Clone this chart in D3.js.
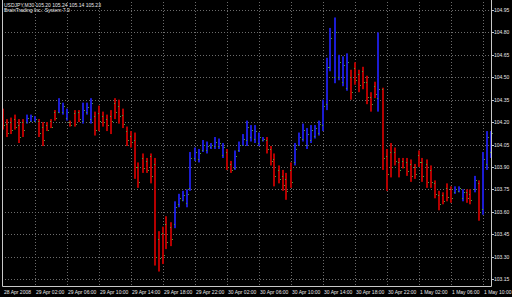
<!DOCTYPE html>
<html>
<head>
<meta charset="utf-8">
<script src="https://cdn.jsdelivr.net/npm/d3@7"></script>
<style>
  html, body { margin: 0; padding: 0; background: #000; }
  svg { display: block; }
  text { font-family: "Liberation Sans", Arial, sans-serif; fill: #e8e8e8; }
</style>
</head>
<body>
<div id="chart"></div>
<script>
// USDJPY M30, 28 Apr 22:00 .. 1 May 11:00 (one entry per bar)
const opens = [
  104.25,104.19,104.20,104.22,104.18,104.20,104.20,104.21,104.21,104.21,
  104.17,104.18,104.21,104.27,104.27,104.27,104.23,104.20,104.26,104.27,
  104.21,104.27,104.22,104.24,104.26,104.24,104.22,104.24,104.33,104.31,
  104.25,104.14,104.11,104.08,103.90,103.96,103.94,103.97,103.92,103.42,
  103.46,103.52,103.50,103.52,103.65,103.68,103.66,103.76,103.96,103.95,
  104.01,104.01,104.03,104.04,104.04,103.98,104.00,103.92,103.89,104.01,
  104.05,104.08,104.10,104.09,104.06,104.08,104.08,104.02,103.95,103.88,
  103.84,103.82,103.88,103.93,104.05,104.09,104.05,104.08,104.11,104.13,
  104.18,104.32,104.57,104.50,104.50,104.47,104.43,104.50,104.56,104.52,
  104.54,104.47,104.37,104.44,104.36,104.42,103.97,104.00,104.00,103.93,
  103.94,103.93,103.92,103.90,103.98,103.93,103.92,103.88,103.79,103.71,
  103.71,103.76,103.75,103.73,103.74,103.69,103.73,103.72,103.75,103.79,
  103.62,103.92,104.00
];
const highs = [
  104.29,104.22,104.23,104.25,104.22,104.22,104.25,104.25,104.24,104.22,
  104.20,104.20,104.22,104.28,104.36,104.33,104.29,104.21,104.28,104.28,
  104.33,104.33,104.36,104.27,104.31,104.27,104.25,104.28,104.36,104.35,
  104.29,104.17,104.14,104.13,103.93,103.99,103.96,103.99,103.96,103.47,
  103.50,103.57,103.53,103.67,103.72,103.74,103.75,104.00,104.03,104.02,
  104.08,104.07,104.06,104.10,104.09,104.06,104.02,103.94,104.01,104.07,
  104.12,104.21,104.18,104.18,104.13,104.10,104.10,104.04,103.99,103.91,
  103.88,103.86,103.93,104.06,104.13,104.19,104.16,104.18,104.18,104.21,
  104.35,104.63,104.83,104.90,104.65,104.64,104.66,104.55,104.60,104.55,
  104.57,104.51,104.40,104.47,104.80,104.43,104.02,104.06,104.03,103.96,
  103.96,103.96,103.95,103.92,104.01,103.96,103.95,103.91,103.81,103.74,
  103.73,103.79,103.77,103.77,103.77,103.75,103.75,103.75,103.84,103.81,
  104.00,104.14,104.14
];
const lows = [
  104.15,104.10,104.12,104.15,104.06,104.10,104.19,104.20,104.20,104.10,
  104.04,104.14,104.16,104.21,104.26,104.25,104.21,104.17,104.17,104.20,
  104.19,104.25,104.19,104.11,104.14,104.17,104.14,104.12,104.22,104.19,
  104.16,104.04,104.03,103.82,103.76,103.86,103.86,103.79,103.24,103.20,
  103.25,103.35,103.37,103.49,103.63,103.67,103.63,103.74,103.94,103.93,
  104.00,103.99,104.02,104.02,104.02,103.96,103.88,103.86,103.88,104.00,
  104.04,104.04,104.07,104.06,104.04,104.07,103.99,103.91,103.77,103.79,
  103.74,103.68,103.76,103.91,104.04,104.07,104.02,104.06,104.09,104.11,
  104.14,104.28,104.54,104.46,104.48,104.44,104.41,104.35,104.45,104.40,
  104.42,104.32,104.27,104.36,104.27,103.88,103.74,103.83,103.91,103.83,
  103.89,103.84,103.80,103.82,103.90,103.80,103.76,103.76,103.69,103.61,
  103.65,103.67,103.66,103.72,103.73,103.67,103.66,103.65,103.73,103.54,
  103.58,103.88,103.96
];
const closes = [
  104.18,104.13,104.15,104.17,104.10,104.15,104.23,104.24,104.22,104.13,
  104.08,104.15,104.17,104.23,104.33,104.31,104.27,104.18,104.19,104.22,
  104.28,104.30,104.33,104.15,104.21,104.20,104.18,104.21,104.27,104.24,
  104.19,104.08,104.07,103.90,103.80,103.89,103.88,103.84,103.30,103.29,
  103.31,103.40,103.42,103.63,103.69,103.71,103.72,103.96,104.00,103.99,
  104.05,104.04,104.05,104.07,104.06,104.03,103.90,103.88,103.97,104.05,
  104.09,104.17,104.15,104.14,104.10,104.09,104.02,103.94,103.84,103.82,
  103.78,103.74,103.80,104.02,104.10,104.15,104.12,104.15,104.16,104.19,
  104.31,104.57,104.76,104.80,104.60,104.58,104.60,104.40,104.48,104.45,
  104.47,104.37,104.32,104.39,104.42,103.96,103.85,103.90,103.94,103.88,
  103.90,103.87,103.84,103.85,103.93,103.84,103.80,103.80,103.72,103.65,
  103.67,103.70,103.69,103.75,103.76,103.73,103.69,103.68,103.81,103.60,
  103.95,104.10,104.13
];
// time labels every 8 bars (4 hours), first one shows the date
const timeLabels = [
  "28 Apr 2008","29 Apr 02:00","29 Apr 06:00","29 Apr 10:00","29 Apr 14:00",
  "29 Apr 18:00","29 Apr 22:00","30 Apr 02:00","30 Apr 06:00","30 Apr 10:00",
  "30 Apr 14:00","30 Apr 18:00","30 Apr 22:00","1 May 02:00","1 May 06:00",
  "1 May 10:00"
];
const priceTicks = [103.15,103.30,103.45,103.60,103.75,103.90,104.05,104.20,104.35,104.50,104.65,104.80,104.95];
const header = ["USDJPY,M30  105.20 105.24 105.14 105.23", "BrainTrading Inc.: System 7.0"];

const width = 512, height = 297;
const left = 2, right = 491, bottom = 286;

const svg = d3.select("#chart").append("svg")
    .attr("width", width)
    .attr("height", height);

svg.append("rect").attr("width", width).attr("height", height).attr("fill", "#000");

const bars = opens.map((o, i) => ({i: i, o: o, h: highs[i], l: lows[i], c: closes[i]}));

const x = d3.scaleLinear().domain([0, bars.length - 1]).range([2.5, 490.5]);
const y = d3.scaleLinear().domain([103.15, 104.95]).range([279, 10]);

// grid
const grid = svg.append("g").attr("stroke", "#6c6c6c").attr("stroke-dasharray", "1,2");
grid.selectAll("line.h")
    .data(priceTicks)
    .enter().append("line")
    .attr("x1", left).attr("x2", right)
    .attr("y1", d => Math.round(y(d)) + 0.5)
    .attr("y2", d => Math.round(y(d)) + 0.5);
grid.selectAll("line.v")
    .data(timeLabels.slice(1))
    .enter().append("line")
    .attr("x1", (d, k) => Math.round(x((k + 1) * 8)) + 0.5)
    .attr("x2", (d, k) => Math.round(x((k + 1) * 8)) + 0.5)
    .attr("y1", 2).attr("y2", bottom);

// bars
const g = svg.append("g");
g.selectAll("rect.bar")
    .data(bars)
    .enter().append("rect")
    .attr("x", d => Math.round(x(d.i)) - 1)
    .attr("width", 2)
    .attr("y", d => y(d.h))
    .attr("height", d => Math.max(1, y(d.l) - y(d.h)))
    .attr("fill", d => d.c >= d.o ? "#1c1cd2" : "#b40000");

g.selectAll("rect.open")
    .data(bars)
    .enter().append("rect")
    .attr("x", d => Math.round(x(d.i)) - 1)
    .attr("width", 1).attr("height", 1)
    .attr("y", d => Math.round(y(d.o)))
    .attr("fill", "#4f9c3a");

g.selectAll("rect.close")
    .data(bars)
    .enter().append("rect")
    .attr("x", d => Math.round(x(d.i)) + 1)
    .attr("width", 1).attr("height", 1)
    .attr("y", d => Math.round(y(d.c)))
    .attr("fill", "#4f9c3a");

// frame
svg.append("path")
    .attr("d", `M${left + 0.5},0 V${bottom + 0.5} H${right + 0.5} V0`)
    .attr("fill", "none")
    .attr("stroke", "#c8c8c8");

// price axis
const ya = svg.append("g");
ya.selectAll("line")
    .data(priceTicks)
    .enter().append("line")
    .attr("x1", right + 1).attr("x2", right + 3)
    .attr("y1", d => Math.round(y(d)) + 0.5)
    .attr("y2", d => Math.round(y(d)) + 0.5)
    .attr("stroke", "#c8c8c8");
ya.selectAll("text")
    .data(priceTicks)
    .enter().append("text")
    .attr("x", 494)
    .attr("y", d => y(d) + 2)
    .attr("font-size", 5)
    .text(d => d.toFixed(2));

// time axis
svg.append("g").selectAll("text")
    .data(timeLabels)
    .enter().append("text")
    .attr("x", (d, k) => Math.round(x(k * 8)) + 1)
    .attr("y", 294)
    .attr("font-size", 5)
    .text(d => d);

// header
svg.append("g").selectAll("text")
    .data(header)
    .enter().append("text")
    .attr("x", 4)
    .attr("y", (d, k) => 7 + k * 5)
    .attr("font-size", 5)
    .text(d => d);
</script>
</body>
</html>
